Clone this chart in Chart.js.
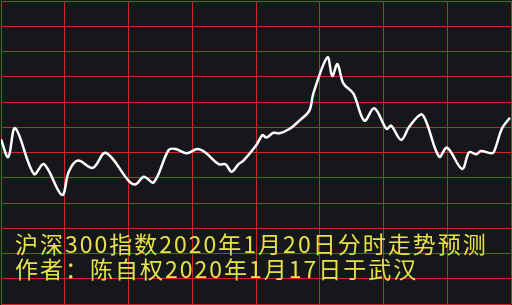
<!DOCTYPE html>
<html>
<head>
<meta charset="utf-8">
<script src="https://cdn.jsdelivr.net/npm/chart.js@4"></script>
<style>
  html, body { margin: 0; padding: 0; background: #16171a; }
  #wrap { position: relative; width: 512px; height: 305px; background: #16171a; }
  .note {
    position: absolute; left: 15px; color: #e8e24a;
    font-family: "Noto Sans CJK SC", sans-serif; font-size: 23px;
    line-height: 24px; letter-spacing: 2px; white-space: nowrap;
  }
</style>
</head>
<body>
<div id="wrap">
  <canvas id="chart" width="512" height="305"></canvas>
  <div class="note" style="top:231px">沪深300指数2020年1月20日分时走势预测</div>
  <div class="note" style="top:256px">作者：陈自权2020年1月17日于武汉</div>
</div>
<script>
// minutes after the open (240 = close), grid every 30 min
const minutes = [0, 3.4, 6.7, 15.5, 20.2, 28.7, 31.9, 36.2, 43.2, 49.3,
  60.1, 63.4, 67.2, 71.9, 78.9, 82.2, 87.4, 92.5, 96.3, 102.4,
  105.7, 108.5, 111.8, 114.1, 120.2, 123.1, 124.9, 128.2, 131.0, 135.7,
  140.4, 145.1, 147.0, 153.6, 155.9, 158.3, 161.1, 165.8, 171.0, 175.6,
  180.8, 181.7, 183.6, 188.3, 192.1, 197.7, 200.1, 206.2, 209.9, 217.0,
  220.3, 223.6, 225.9, 230.6, 232.0, 235.8, 239.5];
// predicted level, in grid rows (0 = bottom, 12 = top)
const level = [6.52, 5.82, 6.96, 5.15, 5.54, 4.32, 5.24, 5.68, 5.39, 5.99,
  4.88, 4.74, 5.04, 4.82, 6.10, 6.14, 5.97, 6.14, 5.99, 5.54,
  5.53, 5.24, 5.54, 5.68, 6.30, 6.69, 6.59, 6.78, 6.76, 6.93,
  7.26, 7.66, 8.34, 9.77, 9.03, 9.50, 8.74, 8.34, 7.26, 7.75,
  7.00, 6.93, 7.06, 6.50, 7.02, 7.51, 7.22, 5.83, 6.19, 5.35,
  6.01, 5.93, 6.06, 5.97, 6.03, 6.96, 7.38];

const gridRed = 'rgb(205,40,40)';

new Chart(document.getElementById('chart'), {
  type: 'line',
  data: {
    datasets: [{
      data: minutes.map((m, i) => ({ x: m, y: level[i] })),
      borderColor: '#ffffff',
      borderWidth: 2.5,
      pointRadius: 0,
      tension: 0.35,
      fill: false
    }]
  },
  options: {
    responsive: false,
    animation: false,
    layout: { padding: { left: 1, top: 1, right: 1, bottom: 1 } },
    plugins: { legend: { display: false }, tooltip: { enabled: false } },
    scales: {
      x: {
        type: 'linear', min: 0, max: 240,
        ticks: { display: false, stepSize: 30 },
        grid: { color: gridRed, lineWidth: 1, drawTicks: false },
        border: { display: false }
      },
      y: {
        min: 0, max: 12,
        ticks: { display: false, stepSize: 1 },
        grid: { color: gridRed, lineWidth: 1, drawTicks: false },
        border: { display: false }
      }
    }
  }
});
</script>
</body>
</html>
